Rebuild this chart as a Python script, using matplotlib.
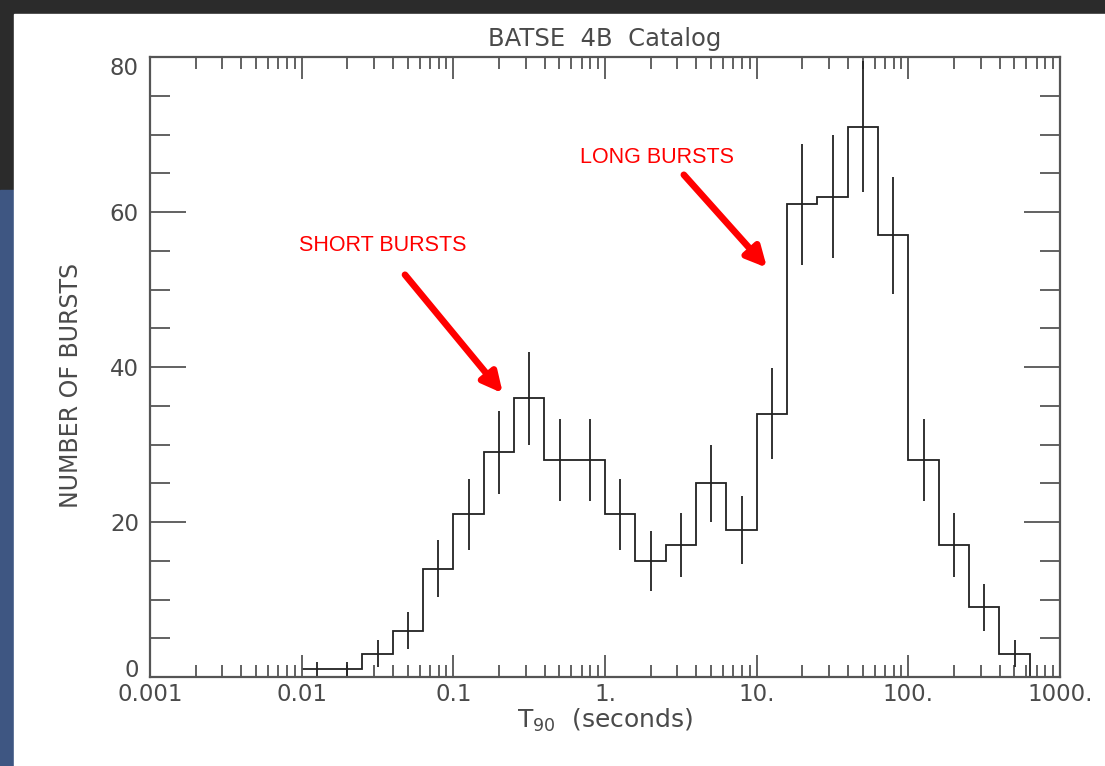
import numpy as np
import matplotlib
matplotlib.use("Agg")
import matplotlib.pyplot as plt
from matplotlib.ticker import FixedLocator, NullFormatter, FixedFormatter

# BATSE 4B T90 distribution, log-spaced bins (0.2 dex wide, from 10^-2 s)
log_start = -2.0
bin_width = 0.2
counts = [1, 1, 3, 6, 14, 21, 29, 36, 28, 28, 21, 15,
          17, 25, 19, 34, 61, 62, 71, 57, 28, 17, 9, 3, 0]

x_major = [0.001, 0.01, 0.1, 1, 10, 100, 1000]
x_labels = ["0.001", "0.01", "0.1", "1.", "10.", "100.", "1000."]
y_major = [0, 20, 40, 60, 80]

counts = np.array(counts, dtype=float)
edges = 10 ** (log_start + bin_width * np.arange(len(counts) + 1))
centers = np.sqrt(edges[:-1] * edges[1:])
err = np.sqrt(counts)

fig = plt.figure(figsize=(11.05, 7.66), dpi=100)
fig.patch.set_facecolor("#2b2b2b")

# white page and the blue strip on the left
fig.add_artist(plt.Rectangle((0, 0), 0.0127, 1 - 190 / 766,
                             transform=fig.transFigure, color="#3e5682", zorder=-2))
fig.add_artist(plt.Rectangle((0.0127, 0), 1, 1 - 14 / 766,
                             transform=fig.transFigure, color="white", zorder=-1))

ax = fig.add_axes([150 / 1105, 89 / 766, 910 / 1105, 620 / 766])
ax.set_facecolor("white")

line_col = "#222222"
ax.stairs(counts, edges, color=line_col, lw=1.3, baseline=None)
mask = counts > 0
ax.vlines(centers[mask], (counts - err)[mask], (counts + err)[mask],
          color=line_col, lw=1.3)

ax.set_xscale("log")
ax.set_xlim(0.001, 1000)
ax.set_ylim(0, 80)

ax.xaxis.set_major_locator(FixedLocator(x_major))
ax.xaxis.set_major_formatter(FixedFormatter(x_labels))
minor = [m * 10.0 ** k for k in range(-3, 3) for m in range(2, 10)]
ax.xaxis.set_minor_locator(FixedLocator(minor))
ax.xaxis.set_minor_formatter(NullFormatter())
ax.yaxis.set_major_locator(FixedLocator(y_major))
ax.yaxis.set_minor_locator(FixedLocator(np.arange(0, 81, 5)))

tick_col = "#555555"
txt_col = "#4a4a4a"
ax.tick_params(axis="both", which="both", direction="in", top=True, right=True,
               color=tick_col, labelcolor=txt_col, labelsize=16.5, width=1.3)
ax.tick_params(axis="x", which="major", length=16, pad=4)
ax.tick_params(axis="x", which="minor", length=8.6)
ax.tick_params(axis="y", which="major", length=26, pad=8)
ax.tick_params(axis="y", which="minor", length=14.4)
for s in ax.spines.values():
    s.set_color(tick_col)
    s.set_linewidth(1.6)

# keep the end labels of the y axis inside the frame
ylabels = ax.get_yticklabels()
ylabels[0].set_verticalalignment("baseline")
ylabels[-1].set_verticalalignment("top")

ax.set_title("BATSE  4B  Catalog", fontsize=17.5, color=txt_col, pad=8)
ax.set_xlabel("T$_{90}$  (seconds)", fontsize=18, color=txt_col, labelpad=1)
ax.set_ylabel("NUMBER OF BURSTS", fontsize=17, color=txt_col,
              family=["Liberation Sans Narrow", "DejaVu Sans"])
ax.yaxis.set_label_coords(-0.074, 0.471)

red = "#ff0000"
lbl_font = ["Liberation Sans", "DejaVu Sans"]
ax.text(0.0344, 55.7, "SHORT BURSTS", color=red, fontsize=15.5,
        ha="center", va="center", family=lbl_font)
ax.text(2.2, 67.0, "LONG BURSTS", color=red, fontsize=15.5,
        ha="center", va="center", family=lbl_font)

arrow = dict(arrowstyle="-|>,head_length=1.2,head_width=0.6", color=red,
             lw=4.8, shrinkA=0, shrinkB=0)
ax.annotate("", xy=(0.212, 36.6), xytext=(0.048, 51.9), arrowprops=arrow)
ax.annotate("", xy=(11.7, 52.8), xytext=(3.31, 64.8), arrowprops=arrow)

fig.savefig("out.png", dpi=100, facecolor=fig.get_facecolor())
